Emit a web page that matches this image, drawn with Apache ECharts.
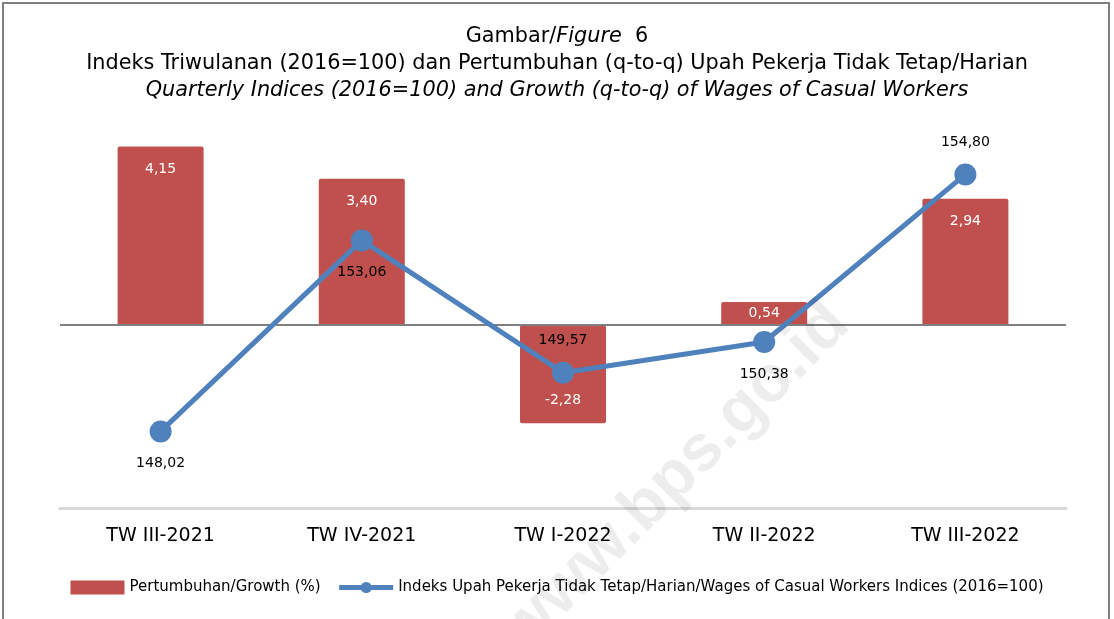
<!DOCTYPE html>
<html>
<head>
<meta charset="utf-8">
<script src="https://cdn.jsdelivr.net/npm/echarts@6/dist/echarts.min.js"></script>
<style>
html, body {margin: 0; padding: 0; background: #fff;}
#chart {width: 1114px; height: 619px;}
</style>
</head>
<body>
<div id="chart"></div>
<script>
var categories = ["TW III-2021", "TW IV-2021", "TW I-2022", "TW II-2022", "TW III-2022"];
var growth = [4.15, 3.40, -2.28, 0.54, 2.94];
var indices = [148.02, 153.06, 149.57, 150.38, 154.80];
var indexLabelPos = ["bottom", "bottom", "top", "bottom", "top"];

var FONT = "DejaVu Sans";
function comma(v, d) {
	return v.toFixed(d).replace(".", ",");
}

var myChart = echarts.init(document.getElementById("chart"));

var barData = growth.map(function (v) {
	var pos = v < 0 ? "insideBottom" : (v < 1 ? "inside" : "insideTop");
	return {value: v, label: {position: pos}};
});
var lineData = indices.map(function (v, i) {
	return {value: v, label: {position: indexLabelPos[i]}};
});

var option = {
	backgroundColor: "#fff",
	animation: false,
	textStyle: {fontFamily: FONT},
	title: {
		left: "center",
		top: 18,
		text: "{a|Gambar/}{b|Figure}{a|  6}\n{a|Indeks Triwulanan (2016=100) dan Pertumbuhan (q-to-q) Upah Pekerja Tidak Tetap/Harian}\n{b|Quarterly Indices (2016=100) and Growth (q-to-q) of Wages of Casual Workers}",
		textStyle: {
			fontWeight: "normal",
			rich: {
				a: {fontFamily: FONT, fontSize: 20.8, color: "#000", lineHeight: 27, fontWeight: "normal"},
				b: {fontFamily: FONT, fontSize: 20.8, color: "#000", lineHeight: 27, fontWeight: "normal", fontStyle: "italic"}
			}
		}
	},
	legend: {
		bottom: 19,
		left: "center",
		itemWidth: 54,
		itemHeight: 14,
		itemGap: 16,
		textStyle: {fontFamily: FONT, fontSize: 15, color: "#000"},
		data: [
			{name: "Pertumbuhan/Growth (%)", icon: "rect"},
			{
				name: "Indeks Upah Pekerja Tidak Tetap/Harian/Wages of Casual Workers Indices (2016=100)",
				lineStyle: {width: 5, color: "#4F81BD"}
			}
		]
	},
	grid: {left: 60, right: 48, top: 110, bottom: 111},
	xAxis: {
		type: "category",
		data: categories,
		axisLine: {onZero: false, lineStyle: {color: "#D9D9D9", width: 3}},
		axisTick: {show: false},
		axisLabel: {fontFamily: FONT, fontSize: 19, color: "#000", margin: 19}
	},
	yAxis: [{
		type: "value",
		min: -4.25,
		max: 5,
		show: false,
		splitLine: {show: false}
	}, {
		type: "value",
		min: 146,
		max: 156.5,
		show: false,
		splitLine: {show: false}
	}],
	series: [{
		name: "Pertumbuhan/Growth (%)",
		type: "bar",
		yAxisIndex: 0,
		barWidth: 86,
		data: barData,
		itemStyle: {color: "#C0504D", borderRadius: 2},
		label: {
			show: true,
			color: "#fff",
			fontFamily: FONT,
			fontSize: 14,
			distance: 16,
			formatter: function (p) { return comma(p.value, 2); }
		},
		markLine: {
			silent: true,
			symbol: "none",
			label: {show: false},
			lineStyle: {color: "#808080", width: 2, type: "solid"},
			data: [{yAxis: 0}]
		}
	}, {
		name: "Indeks Upah Pekerja Tidak Tetap/Harian/Wages of Casual Workers Indices (2016=100)",
		type: "line",
		yAxisIndex: 1,
		data: lineData,
		symbol: "circle",
		symbolSize: 22,
		z: 5,
		lineStyle: {color: "#4F81BD", width: 5},
		itemStyle: {color: "#4F81BD"},
		label: {
			show: true,
			color: "#000",
			fontFamily: FONT,
			fontSize: 14,
			distance: 14,
			formatter: function (p) { return comma(p.value, 2); }
		}
	}],
	graphic: [{
		type: "rect",
		shape: {x: 3, y: 3, width: 1106, height: 660},
		style: {fill: "none", stroke: "#7F7F7F", lineWidth: 2},
		silent: true
	}, {
		type: "text",
		x: 675,
		y: 478,
		rotation: Math.PI / 4,
		z: 20,
		silent: true,
		style: {
			text: "www.bps.go.id",
			font: "bold 66px 'Liberation Sans', Arial",
			fill: "rgba(0,0,0,0.07)",
			align: "center",
			verticalAlign: "middle"
		}
	}]
};
myChart.setOption(option);
</script>
</body>
</html>
